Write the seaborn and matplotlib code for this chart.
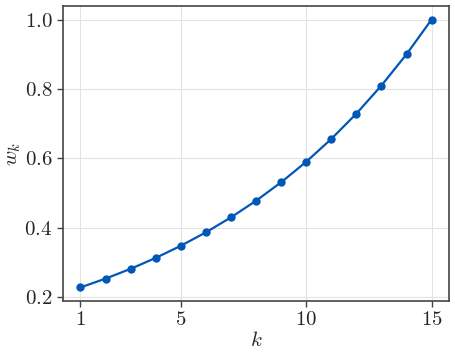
import matplotlib
matplotlib.use("Agg")
import matplotlib.pyplot as plt
import seaborn as sns
import pandas as pd

k = [1, 2, 3, 4, 5, 6, 7, 8, 9, 10, 11, 12, 13, 14, 15]
w = [0.2288, 0.2542, 0.2824, 0.3138, 0.3487, 0.3874, 0.4305, 0.4783,
     0.5314, 0.5905, 0.6561, 0.7290, 0.8100, 0.9000, 1.0000]
xticks = [1, 5, 10, 15]
yticks = [0.2, 0.4, 0.6, 0.8, 1.0]

sns.set_style("white")
plt.rcParams['font.family'] = ['cmr10', 'DejaVu Serif']
plt.rcParams['mathtext.fontset'] = 'cm'
plt.rcParams['axes.formatter.use_mathtext'] = True

df = pd.DataFrame({"k": k, "w": w})
fig, ax = plt.subplots(figsize=(4.56, 3.59), dpi=100)
sns.lineplot(data=df, x="k", y="w", ax=ax, color="#0057b8", marker="o",
             markersize=6, markeredgewidth=0, linewidth=1.6)
ax.set_xticks(xticks)
ax.set_xticklabels([f"${t}$" for t in xticks])
ax.set_yticks(yticks)
ax.set_yticklabels([f"${t:.1f}$" for t in yticks])
ax.tick_params(labelsize=15, direction="out", length=4, width=1, color="#444444",
               bottom=True, left=True)
ax.grid(True, color="#e3e3e3", linewidth=0.8)
for s in ax.spines.values():
    s.set_color("#444444")
    s.set_linewidth(1.2)
ax.set_xlabel("$k$", fontsize=15, labelpad=1)
ax.set_ylabel("$w_k$", fontsize=15, labelpad=1)
fig.subplots_adjust(left=0.138, right=0.985, top=0.983, bottom=0.162)
fig.savefig("out.png", dpi=100)
